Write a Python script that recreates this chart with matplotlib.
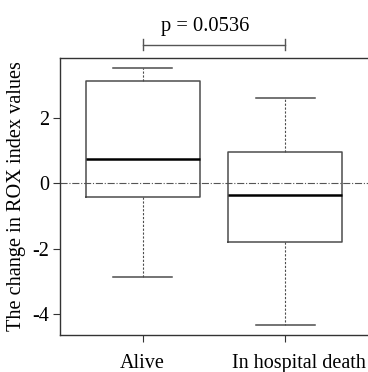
import matplotlib
matplotlib.use("Agg")
import matplotlib.pyplot as plt
import matplotlib.transforms as mtransforms

GROUPS = ["Alive", "In hospital death"]
WHISKER_LOW = [-2.85, -4.31]
Q1 = [-0.40, -1.79]
MEDIAN = [0.75, -0.34]
Q3 = [3.14, 0.96]
WHISKER_HIGH = [3.52, 2.61]
P_TEXT = "p = 0.0536"

plt.rcParams["font.family"] = ["Liberation Serif", "DejaVu Serif"]

BOXC = "#4d4d4d"

fig = plt.figure(figsize=(3.68, 3.72), dpi=100)
ax = fig.add_axes([60 / 368, 1 - 335 / 372, 1 - 60 / 368, (335 - 58) / 372])

stats = []
for i, g in enumerate(GROUPS):
    stats.append(dict(label=g, whislo=WHISKER_LOW[i], q1=Q1[i], med=MEDIAN[i],
                      q3=Q3[i], whishi=WHISKER_HIGH[i], fliers=[]))

ax.bxp(stats, positions=[1, 2], widths=0.8, capwidths=0.41, showfliers=False,
       boxprops=dict(color=BOXC, linewidth=1.1),
       medianprops=dict(color="black", linewidth=1.8),
       whiskerprops=dict(color=BOXC, linewidth=0.8, linestyle=(0, (2, 1.5))),
       capprops=dict(color=BOXC, linewidth=1.1))

ax.axhline(0, color="#555555", linewidth=0.8, linestyle="-.", zorder=0)

ax.set_xlim(0.42, 2.58)
ax.set_ylim(-4.63, 3.83)
ax.set_yticks([-4, -2, 0, 2])
ax.set_yticklabels(["-4", "-2", "0", "2"])
ax.set_ylabel("The change in ROX index values", fontsize=14.6, labelpad=4)
ax.tick_params(axis="both", labelsize=14.5, color="#333333", length=5, width=0.8)
ax.tick_params(axis="y", pad=3)
ax.tick_params(axis="x", pad=8.5)
off = mtransforms.ScaledTranslation(14 / 100, 0, fig.dpi_scale_trans)
xl = ax.get_xticklabels()[1]
xl.set_transform(xl.get_transform() + off)

ax.spines["right"].set_visible(False)
for s in ["left", "top", "bottom"]:
    ax.spines[s].set_color("#333333")
    ax.spines[s].set_linewidth(1.0)

# bracket above the plot
ytop = 4.23
ax.plot([1, 2], [ytop, ytop], color="#555555", linewidth=1.0, clip_on=False)
for xb in [1, 2]:
    ax.plot([xb, xb], [ytop - 0.17, ytop + 0.17], color="#555555", linewidth=1.0, clip_on=False)
ax.text(1.44, ytop + 0.27, P_TEXT, ha="center", va="bottom", fontsize=14.8, clip_on=False)

fig.savefig("out.png", dpi=100, facecolor="white")
